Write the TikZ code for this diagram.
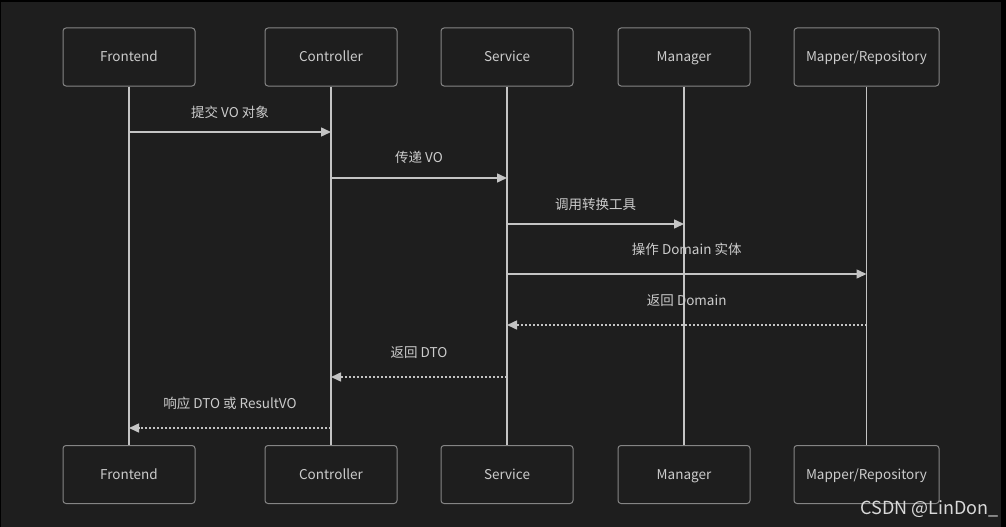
\documentclass[tikz,border=0pt]{standalone}
\usepackage{fontspec}
\setmainfont{Noto Sans CJK SC}
\usetikzlibrary{arrows.meta}
\definecolor{bg}{HTML}{1E1E1E}
\definecolor{edge}{HTML}{858585}
\definecolor{txt}{HTML}{CCCCCC}
\definecolor{wire}{HTML}{C4C4C4}
\tikzset{
	actor/.style={draw=edge, line width=1pt, fill=bg, rounded corners=3pt, minimum width=132pt, minimum height=58pt, text=txt, text height=12pt, text depth=2pt, font=\fontsize{13.5}{15}\selectfont},
	life/.style={wire, line width=1.5pt},
	call/.style={wire, line width=1.5pt, -{Triangle[length=10pt,width=9pt]}},
	reply/.style={call, dash pattern=on 2pt off 2pt},
	lbl/.style={text=txt, text height=12pt, text depth=2pt, font=\fontsize{13.5}{15}\selectfont, inner sep=0pt}
}
\begin{document}
\begin{tikzpicture}[x=1pt, y=-1pt]
		\fill[black] (0,0) rectangle (1006,527);
		\fill[bg] (1,2) rectangle (1001,527);
		\node[actor] (fe) at (129,57) {Frontend};
		\node[actor] (ct) at (331,57) {Controller};
		\node[actor] (sv) at (507,57) {Service};
		\node[actor] (mg) at (684,57) {Manager};
		\node[actor, minimum width=145pt] (mr) at (866.5,57) {Mapper/Repository};
		\node[actor] (fe2) at (129,474.5) {Frontend};
		\node[actor] (ct2) at (331,474.5) {Controller};
		\node[actor] (sv2) at (507,474.5) {Service};
		\node[actor] (mg2) at (684,474.5) {Manager};
		\node[actor, minimum width=145pt] (mr2) at (866.5,474.5) {Mapper/Repository};
		\draw[life] (fe) -- (fe2);
		\draw[life] (ct) -- (ct2);
		\draw[life] (sv) -- (sv2);
		\draw[life] (mg) -- (mg2);
		\draw[life] (mr) -- (mr2);
		\coordinate (m1) at (0,132);
		\coordinate (m2) at (0,178);
		\coordinate (m3) at (0,224);
		\coordinate (m4) at (0,274);
		\coordinate (m5) at (0,325);
		\coordinate (m6) at (0,377);
		\coordinate (m7) at (0,428);
		\draw[call] (fe |- m1) -- node[lbl, yshift=20pt] (l1) {提交 VO 对象} (ct |- m1);
		\draw[call] (ct |- m2) -- node[lbl, yshift=21pt] (l2) {传递 VO} (sv |- m2);
		\draw[call] (sv |- m3) -- node[lbl, yshift=20pt] (l3) {调用转换工具} (mg |- m3);
		\draw[call] (sv |- m4) -- node[lbl, yshift=25pt] (l4) {操作 Domain 实体} (mr |- m4);
		\draw[reply] (mr |- m5) -- node[lbl, yshift=25pt] (l5) {返回 Domain} (sv |- m5);
		\draw[reply] (sv |- m6) -- node[lbl, yshift=25pt] (l6) {返回 DTO} (ct |- m6);
		\draw[reply] (ct |- m7) -- node[lbl, yshift=25pt] (l7) {响应 DTO 或 ResultVO} (fe |- m7);
		\node[anchor=south east, inner sep=0pt, text=white!85!black, font=\fontsize{18}{20}\selectfont] (mark) at (999,518) {CSDN @LinDon\_};
	\end{tikzpicture}
\end{document}
